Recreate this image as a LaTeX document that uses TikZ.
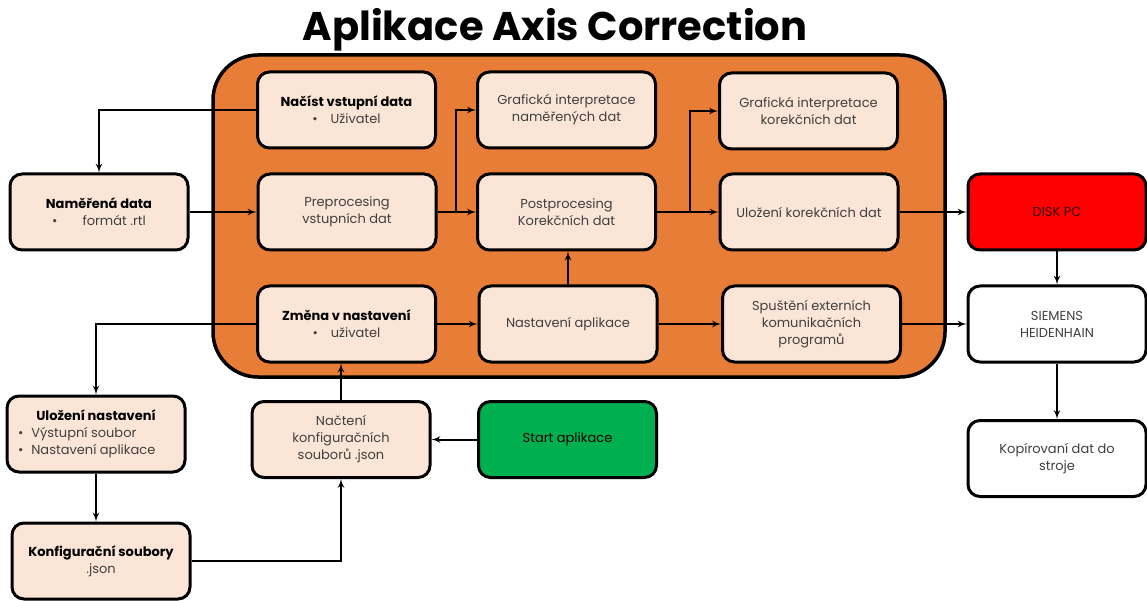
\documentclass[tikz,border=0pt]{standalone}
\usepackage{fontspec}
\setmainfont{Poppins}
\usepackage{xcolor}
\usepackage{tikz}
\usetikzlibrary {positioning}
\usetikzlibrary{arrows}
\tikzset{edge/.style = {->,> = latex', line width=2pt}}
\definecolor{appOrange}{HTML}{E87D37}
\definecolor{boxFill}{HTML}{FBE5D6}
\definecolor{startGreen}{HTML}{00B050}
\definecolor{diskRed}{HTML}{FF0000}
\definecolor{textGrey}{HTML}{404040}

\begin{document}
\begin{tikzpicture}[x=1pt,y=-1pt,main node/.style={draw,line width=3pt,rounded corners=12pt,fill=boxFill,minimum width=178pt,minimum height=76pt,align=center,text=textGrey,font=\fontsize{13}{17}\selectfont}]
                \useasboundingbox (0,0) rectangle (1147,601);
                % title and application frame
                \node[font=\fontsize{40}{42}\selectfont\bfseries] (title) at (555,30) {Aplikace Axis Correction};
                \node[draw,line width=3.5pt,fill=appOrange,rounded corners=45pt,minimum width=732pt,minimum height=322pt] (app) at (579,216) {};

                % boxes inside the application
                \node[main node] (load) at (346.5,110) {\textcolor{black}{\bfseries Načíst vstupní data}\\ \textbullet\quad Uživatel};
                \node[main node] (grafA) at (566.5,110) {Grafická interpretace\\naměřených dat};
                \node[main node] (grafB) at (808.5,111) {Grafická interpretace\\korekčních dat};
                \node[main node] (pre) at (347,212) {Preprocesing\\vstupních dat};
                \node[main node] (post) at (566.5,212) {Postprocesing\\Korekčních dat};
                \node[main node] (saveK) at (809,212) {Uložení korekčních dat};
                \node[main node] (change) at (346.5,324) {\textcolor{black}{\bfseries Změna v nastavení}\\ \textbullet\quad uživatel};
                \node[main node] (settings) at (568,324) {Nastavení aplikace};
                \node[main node] (ext) at (811.5,324) {Spuštění externích\\komunikačních\\programů};

                % boxes outside
                \node[main node] (measured) at (99,212) {\textcolor{black}{\bfseries Naměřená data}\\ \textbullet\hspace{25pt}formát .rtl};
                \node[main node] (saveS) at (96,434) {\textcolor{black}{\bfseries Uložení nastavení}\\ \parbox[t]{156pt}{\raggedright\textbullet\hspace{8pt}Výstupní soubor\\ \textbullet\hspace{8pt}Nastavení aplikace}};
                \node[main node] (cfg) at (101,561) {\textcolor{black}{\bfseries Konfigurační soubory}\\.json};
                \node[main node] (loadcfg) at (341,439.5) {Načtení\\konfiguračních\\souborů .json};
                \node[main node, fill=startGreen, text=black] (start) at (567.5,439.5) {Start aplikace};
                \node[main node, fill=diskRed, text=black!80!red] (disk) at (1057,212) {DISK PC};
                \node[main node, fill=white] (plc) at (1057,324) {SIEMENS\\HEIDENHAIN};
                \node[main node, fill=white] (copy) at (1057,458.5) {Kopírovaní dat do\\stroje};

                \coordinate (forkA) at (456,212);
                \coordinate (forkB) at (690,212);

                \draw[edge] (load.west) -| (measured.north);
                \draw[edge] (measured.east) -- (pre.west);
                \draw[edge] (pre.east) -- (post.west);
                \draw[edge] (forkA) |- (grafA.west);
                \draw[edge] (post.east) -- (saveK.west);
                \draw[edge] (forkB) |- (grafB.west);
                \draw[edge] (saveK.east) -- (disk.west);
                \draw[edge] (disk.south) -- (plc.north);
                \draw[edge] (plc.south) -- (copy.north);
                \draw[edge] (settings.north) -- (settings.north |- post.south);
                \draw[edge] (change.east) -- (settings.west);
                \draw[edge] (settings.east) -- (ext.west);
                \draw[edge] (ext.east) -- (plc.west);
                \draw[edge] (change.west) -| (saveS.north);
                \draw[edge] (saveS.south) -- (saveS.south |- cfg.north);
                \draw[edge] (cfg.east) -| (loadcfg.south);
                \draw[edge] (loadcfg.north) -- (loadcfg.north |- change.south);
                \draw[edge] (start.west) -- (loadcfg.east);
            \end{tikzpicture}
\end{document}
